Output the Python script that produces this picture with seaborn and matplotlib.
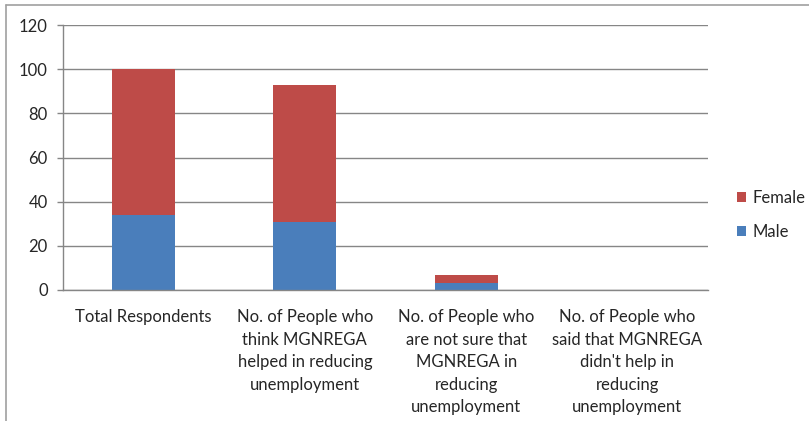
import matplotlib
matplotlib.use("Agg")
import matplotlib.pyplot as plt
from matplotlib.lines import Line2D
from matplotlib.patches import Patch
import numpy as np
import pandas as pd
import seaborn as sns

categories = [
    "Total Respondents",
    "No. of People who\nthink MGNREGA\nhelped in reducing\nunemployment",
    "No. of People who\nare not sure that\nMGNREGA in\nreducing\nunemployment",
    "No. of People who\nsaid that MGNREGA\ndidn't help in\nreducing\nunemployment",
]
male = [34, 31, 3, 0]
female = [66, 62, 4, 0]
y_ticks = [0, 20, 40, 60, 80, 100, 120]

MALE_C = "#4A7EBB"
FEMALE_C = "#BE4B48"
GRID_C = "#868686"
TEXT_C = "#262626"
FS = 12

sns.set_theme(style="white")
plt.rcParams["font.family"] = ["Lato", "DejaVu Sans"]

df = pd.DataFrame({
    "category": categories,
    "male": male,
    "female": female,
})
df["total"] = df["male"] + df["female"]

fig = plt.figure(figsize=(8.09, 4.21), dpi=100)
ax = fig.add_axes([63 / 809, 1 - 290 / 421, (708 - 63) / 809, (290 - 25) / 421])

# stacked columns: full height in the female colour, male share drawn over it
sns.barplot(data=df, x="category", y="total", color=FEMALE_C, width=0.39,
            saturation=1, ax=ax, linewidth=0)
sns.barplot(data=df, x="category", y="male", color=MALE_C, width=0.39,
            saturation=1, ax=ax, linewidth=0)

ax.set_ylim(0, 120)
ax.set_xlim(-0.5, len(categories) - 0.5)
ax.set_yticks(y_ticks)
ax.set_yticklabels([str(v) for v in y_ticks])
ax.yaxis.grid(True, color=GRID_C, linewidth=1)
ax.set_axisbelow(True)
ax.set_xlabel("")
ax.set_ylabel("")

for side in ("top", "right"):
    ax.spines[side].set_visible(False)
for side in ("left", "bottom"):
    ax.spines[side].set_color(GRID_C)
    ax.spines[side].set_linewidth(1)

# category labels centred, tick marks on the category boundaries
ax.set_xticks(range(len(categories)))
ax.set_xticklabels(categories, linespacing=1.5, va="top", fontsize=FS, color=TEXT_C)
ax.set_xticks(np.arange(-0.5, len(categories), 1.0), minor=True)
ax.tick_params(axis="x", which="major", length=0, pad=14)
ax.tick_params(axis="x", which="minor", length=4, width=1, color=GRID_C, direction="out")
ax.tick_params(axis="y", length=4, width=1, color=GRID_C, direction="out",
               pad=7, labelsize=FS, labelcolor=TEXT_C, left=True)

handles = [Patch(facecolor=FEMALE_C, edgecolor="none"),
           Patch(facecolor=MALE_C, edgecolor="none")]
fig.legend(handles, ["Female", "Male"], loc="center left",
           bbox_to_anchor=(722 / 809, 1 - 215 / 421), frameon=False,
           fontsize=FS, labelcolor=TEXT_C, handlelength=0.55, handleheight=0.55,
           handletextpad=0.4, labelspacing=1.1)

# outer chart frame (top and left edges)
fig.add_artist(Line2D([6 / 809, 1], [1 - 5 / 421, 1 - 5 / 421],
                      transform=fig.transFigure, color="#A0A0A0", linewidth=1.2))
fig.add_artist(Line2D([6 / 809, 6 / 809], [0, 1 - 5 / 421],
                      transform=fig.transFigure, color="#A0A0A0", linewidth=1.2))

fig.savefig("out.png", dpi=100, facecolor="white")
